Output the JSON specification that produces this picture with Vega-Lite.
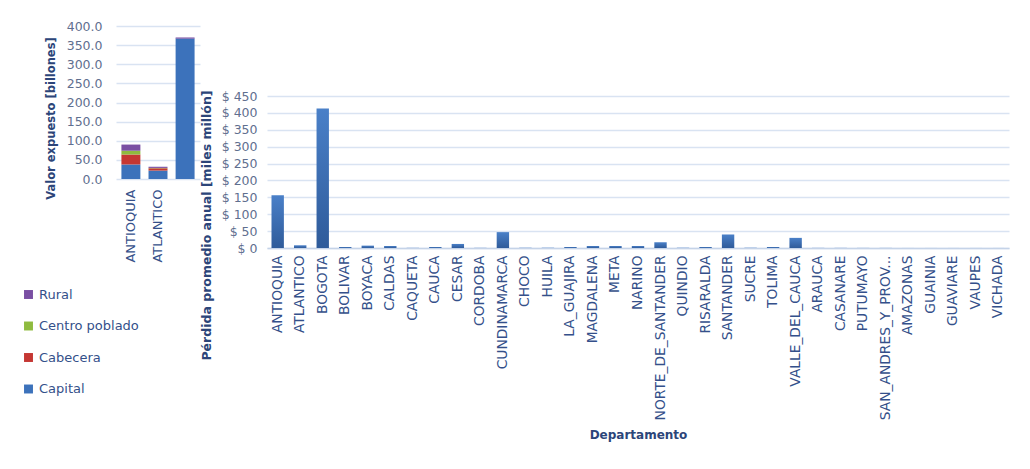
{
  "$schema": "https://vega.github.io/schema/vega-lite/v6.json",
  "background": "white",
  "padding": {"left": 22, "top": 20, "right": 5, "bottom": 5},
  "config": {
    "font": "DejaVu Sans",
    "view": {"stroke": null},
    "axis": {"gridColor": "#d9e3f2", "gridWidth": 1.5, "ticks": false, "labelColor": "#34508a", "titleColor": "#2c4579"}
  },
  "spacing": 0,
  "resolve": {"legend": {"color": "independent"}, "scale": {"color": "independent"}},
  "hconcat": [
    {
      "width": 84,
      "height": 153,
      "data": {"values": [
        {"departamento": "ANTIOQUIA", "zona": "Capital", "valor": 38},
        {"departamento": "ANTIOQUIA", "zona": "Cabecera", "valor": 26},
        {"departamento": "ANTIOQUIA", "zona": "Centro poblado", "valor": 10},
        {"departamento": "ANTIOQUIA", "zona": "Rural", "valor": 16},
        {"departamento": "ATLANTICO", "zona": "Capital", "valor": 22},
        {"departamento": "ATLANTICO", "zona": "Cabecera", "valor": 6},
        {"departamento": "ATLANTICO", "zona": "Centro poblado", "valor": 1},
        {"departamento": "ATLANTICO", "zona": "Rural", "valor": 3},
        {"departamento": "BOGOTA", "zona": "Capital", "valor": 367},
        {"departamento": "BOGOTA", "zona": "Cabecera", "valor": 0},
        {"departamento": "BOGOTA", "zona": "Centro poblado", "valor": 0},
        {"departamento": "BOGOTA", "zona": "Rural", "valor": 3}
      ]},
      "transform": [
        {"calculate": "indexof(['Capital', 'Cabecera', 'Centro poblado', 'Rural'], datum.zona)", "as": "orden"}
      ],
      "mark": {"type": "bar"},
      "encoding": {
        "x": {
          "field": "departamento", "type": "nominal",
          "sort": ["ANTIOQUIA", "ATLANTICO", "BOGOTA"],
          "scale": {"paddingInner": 0.3, "paddingOuter": 0.2},
          "axis": {"title": null, "labelAngle": -90, "labelExpr": "datum.value == 'BOGOTA' ? '' : datum.value", "domain": false, "labelPadding": 10, "labelFontSize": 13}
        },
        "y": {
          "field": "valor", "type": "quantitative",
          "scale": {"domain": [0, 400]},
          "axis": {"values": [0, 50, 100, 150, 200, 250, 300, 350, 400], "format": ".1f", "title": "Valor expuesto [billones]", "titleFontSize": 11.5, "titleFontWeight": "bold", "titleY": 92, "titlePadding": 10, "labelFontSize": 12.5, "labelColor": "#5f6f8f", "labelPadding": 14, "domain": false}
        },
        "order": {"field": "orden", "type": "quantitative", "sort": "ascending"},
        "color": {
          "field": "zona", "type": "nominal",
          "scale": {"domain": ["Capital", "Cabecera", "Centro poblado", "Rural"], "range": ["#3c72bb", "#c53733", "#8fbb3f", "#7a4fa3"]},
          "legend": {"title": null, "orient": "none", "legendX": -94, "legendY": 262, "values": ["Rural", "Centro poblado", "Cabecera", "Capital"], "symbolType": "square", "symbolSize": 80, "symbolStrokeWidth": 0, "rowPadding": 17.5, "labelOffset": 4, "labelFontSize": 13, "labelColor": "#34508a"}
        }
      }
    },
    {
      "spacing": 0,
      "vconcat": [
        {
          "width": 742,
          "height": 63,
          "data": {"values": []},
          "mark": {"type": "point"},
          "encoding": {}
        },
        {
          "width": 742,
          "height": 152,
          "data": {"values": [
            {"departamento": "ANTIOQUIA", "perdida": 156},
            {"departamento": "ATLANTICO", "perdida": 8},
            {"departamento": "BOGOTA", "perdida": 413},
            {"departamento": "BOLIVAR", "perdida": 3},
            {"departamento": "BOYACA", "perdida": 7},
            {"departamento": "CALDAS", "perdida": 6},
            {"departamento": "CAQUETA", "perdida": 0.5},
            {"departamento": "CAUCA", "perdida": 3},
            {"departamento": "CESAR", "perdida": 12},
            {"departamento": "CORDOBA", "perdida": 0.5},
            {"departamento": "CUNDINAMARCA", "perdida": 47},
            {"departamento": "CHOCO", "perdida": 0.5},
            {"departamento": "HUILA", "perdida": 0.8},
            {"departamento": "LA_GUAJIRA", "perdida": 3},
            {"departamento": "MAGDALENA", "perdida": 6},
            {"departamento": "META", "perdida": 6},
            {"departamento": "NARINO", "perdida": 6},
            {"departamento": "NORTE_DE_SANTANDER", "perdida": 17},
            {"departamento": "QUINDIO", "perdida": 0.8},
            {"departamento": "RISARALDA", "perdida": 3},
            {"departamento": "SANTANDER", "perdida": 40},
            {"departamento": "SUCRE", "perdida": 0.8},
            {"departamento": "TOLIMA", "perdida": 3},
            {"departamento": "VALLE_DEL_CAUCA", "perdida": 30},
            {"departamento": "ARAUCA", "perdida": 0.4},
            {"departamento": "CASANARE", "perdida": 0.4},
            {"departamento": "PUTUMAYO", "perdida": 0.3},
            {"departamento": "SAN_ANDRES_Y_PROV...", "perdida": 0.3},
            {"departamento": "AMAZONAS", "perdida": 0.1},
            {"departamento": "GUAINIA", "perdida": 0.1},
            {"departamento": "GUAVIARE", "perdida": 0.1},
            {"departamento": "VAUPES", "perdida": 0.1},
            {"departamento": "VICHADA", "perdida": 0.1}
          ]},
          "mark": {
            "type": "bar",
            "color": {"gradient": "linear", "x1": 0, "y1": 0, "x2": 0, "y2": 1, "stops": [{"offset": 0, "color": "#4a80c8"}, {"offset": 1, "color": "#2f5b9a"}]}
          },
          "encoding": {
            "x": {
              "field": "departamento", "type": "nominal", "sort": null,
              "scale": {"paddingInner": 0.45, "paddingOuter": 0.2},
              "axis": {"title": "Departamento", "titleFontSize": 12, "titleFontWeight": "bold", "titlePadding": 10, "labelAngle": -90, "labelFontSize": 13.8, "labelPadding": 7, "domain": true, "domainColor": "#c5d3e8", "domainWidth": 1.5}
            },
            "y": {
              "field": "perdida", "type": "quantitative",
              "scale": {"domain": [0, 450]},
              "axis": {"values": [0, 50, 100, 150, 200, 250, 300, 350, 400, 450], "labelExpr": "'$ ' + datum.value", "title": "Pérdida promedio anual [miles millón]", "titleFontSize": 12.5, "titleFontWeight": "bold", "titleY": 129, "titlePadding": 8, "labelFontSize": 12.5, "labelColor": "#5f6f8f", "labelPadding": 10, "domain": false}
            }
          }
        }
      ]
    }
  ]
}
